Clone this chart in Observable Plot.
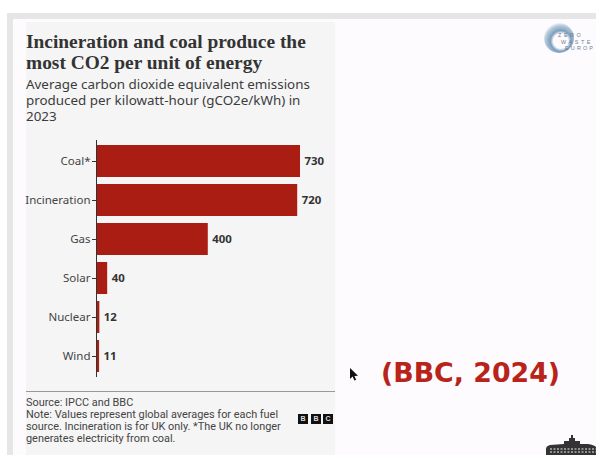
<!DOCTYPE html>
<html><head><meta charset="utf-8">
<script src="https://cdn.jsdelivr.net/npm/d3@7"></script>
<script src="https://cdn.jsdelivr.net/npm/@observablehq/plot@0.6"></script>
<style>
html,body{margin:0;padding:0;background:#fff;width:596px;height:455px;overflow:hidden}
#slide{position:absolute;left:7px;top:13px;width:589px;height:442px;background:#e6e6e6}
#inner{position:absolute;left:13px;top:19px;width:583px;height:436px;background:#fdfbfe}
#card{position:absolute;left:26px;top:22px;width:309px;height:433px;background:#f5f5f5}
.t{position:absolute;white-space:nowrap}
#title{left:26px;top:30.5px;font:bold 19.4px/21px "Liberation Serif",serif;color:#333}
#sub{left:26px;top:76px;font:13.4px/16.2px "Noto Sans",sans-serif;color:#3c3c3c}
#rule{position:absolute;left:26px;top:391px;width:309px;height:1px;background:#999}
#foot{left:26px;top:397px;font:10.9px/12px Roboto,sans-serif;color:#444}
#plot{position:absolute;left:0;top:0}
.b{position:absolute;top:414px;width:10px;height:10px;background:#111;color:#ddd;font:bold 7px/10px "Liberation Sans",sans-serif;text-align:center}
#ref{left:381px;top:353px;font:bold 26.8px/40px "DejaVu Sans",sans-serif;color:#b8231a}
#zwe{position:absolute;left:544px;top:23px;width:30px;height:30px;border-radius:50%;background:radial-gradient(circle at 56% 60%,#fdfbfe 0 30%,#7d9fbd 42%,#b4c8da 62%,rgba(205,218,232,0) 76%)}
.z{font:5.4px/7px "Liberation Sans",sans-serif;letter-spacing:2.6px;color:#6b7d94}
</style></head><body>
<div id="slide"></div><div id="inner"></div><div id="card"></div>
<div class="t" id="title"></div><div class="t" id="sub"></div>
<div id="plot"></div>
<div id="rule"></div><div class="t" id="foot"></div>
<div class="b" style="left:298px">B</div><div class="b" style="left:311px">B</div><div class="b" style="left:323px">C</div>
<div id="zwe"></div>
<div class="t z" style="left:558px;top:32px">ZERO</div>
<div class="t z" style="left:561px;top:39px">WASTE</div>
<div class="t z" style="left:565px;top:45px;letter-spacing:2.2px">EUROP</div>
<svg style="position:absolute;left:349px;top:367px" width="11" height="15" viewBox="0 0 11 15"><path d="M1 1 L1 12 L3.6 9.6 L5.4 13.6 L7.2 12.8 L5.4 9 L9 8.8 Z" fill="#111"/></svg>
<svg style="position:absolute;left:544px;top:434px" width="52" height="21" viewBox="0 0 52 21"><path d="M20 10h16v-3h-5V4h-2V1h-2v3h-2v3h-5z M2 21v-6q0-3 4-4l14-1h24q6 1 8 3v8z" fill="#333"/><path d="M6 15h46M6 18h46" stroke="#eee" stroke-width="1" stroke-dasharray="2 1.5"/></svg>
<div class="t" id="ref">(BBC, 2024)</div>
<script>
const titleLines = ["Incineration and coal produce the", "most CO2 per unit of energy"];
const subtitleLines = ["Average carbon dioxide equivalent emissions", "produced per kilowatt-hour (gCO2e/kWh) in", "2023"];
const footLines = ["Source: IPCC and BBC", "Note: Values represent global averages for each fuel", "source. Incineration is for UK only. *The UK no longer", "generates electricity from coal."];
const sources = ["Coal*", "Incineration", "Gas", "Solar", "Nuclear", "Wind"];
const emissions = [730, 720, 400, 40, 12, 11];
const rows = sources.map((source, i) => ({source, value: emissions[i]}));

document.getElementById("title").innerHTML = titleLines.join("<br>");
document.getElementById("sub").innerHTML = subtitleLines.join("<br>");
document.getElementById("foot").innerHTML = footLines.join("<br>");

const chart = Plot.plot({
  width: 596, height: 377,
  marginLeft: 96, marginRight: 296, marginTop: 140, marginBottom: 0,
  style: {background: "transparent", fontFamily: "'Noto Sans',sans-serif", fontSize: "11.5px"},
  x: {domain: [0, 730], axis: null},
  y: {domain: sources, paddingInner: 0.19, paddingOuter: 0.095, label: null},
  marks: [
    Plot.barX(rows, {x: "value", y: "source", fill: "#a91d12"}),
    Plot.axisY({tickSize: 4, tickPadding: 2, stroke: "#333", color: "#444", fontSize: 11.5, label: null}),
    Plot.ruleX([0], {stroke: "#333", strokeWidth: 1}),
    Plot.text(rows, {x: "value", y: "source", text: d => String(d.value), textAnchor: "start", dx: 4, fontWeight: "bold", fontSize: 11.4, fill: "#333"})
  ]
});
document.getElementById("plot").appendChild(chart);
</script>
</body></html>
